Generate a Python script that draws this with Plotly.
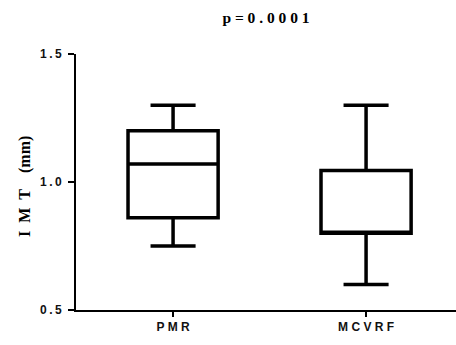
import plotly.graph_objects as go

categories = ["P M R", "M C V R F"]
lower_whisker = [0.75, 0.60]
q1 = [0.86, 0.80]
median = [1.07, 0.80]
q3 = [1.20, 1.045]
upper_whisker = [1.30, 1.30]
y_tick_vals = [0.5, 1.0, 1.5]
y_tick_text = ["0\u2009.\u20095", "1\u2009.\u20090", "1\u2009.\u20095"]
title_text = "p = 0 . 0 0 0 1"
y_title = "I\u2002M\u2002T\u2003(mm)"

fig = go.Figure()
fig.add_trace(go.Box(
    x=categories, q1=q1, median=median, q3=q3,
    lowerfence=lower_whisker, upperfence=upper_whisker,
    fillcolor="white", line=dict(color="black", width=3.5),
    whiskerwidth=0.5, boxpoints=False, showlegend=False, hoverinfo="skip",
))

tick_font = dict(family="Arial, Liberation Sans, sans-serif", size=12, color="#111", weight="bold")
fig.update_layout(
    width=456, height=345,
    margin=dict(l=76, r=0, t=54, b=35),
    plot_bgcolor="white", paper_bgcolor="white",
    boxgap=0.333,
    title=dict(text=title_text, x=0.5, xref="paper", xanchor="center",
               y=1 - 18 / 345, yref="container", yanchor="middle",
               font=dict(family="Times New Roman, Liberation Serif, serif", size=15.5, color="black", weight="bold")),
    xaxis=dict(range=[-0.503, 1.466], showline=True, linecolor="black", linewidth=2,
               ticks="outside", ticklen=5, tickwidth=2, tickcolor="black",
               showgrid=False, zeroline=False, tickfont=tick_font, fixedrange=True),
    yaxis=dict(range=[0.5, 1.5], showline=True, linecolor="black", linewidth=2,
               ticks="outside", ticklen=6, tickwidth=2, tickcolor="black",
               tickvals=y_tick_vals, ticktext=y_tick_text, ticklabelstandoff=4,
               showgrid=False, zeroline=False, tickfont=tick_font, fixedrange=True),
    annotations=[dict(text=y_title, textangle=-90, xref="paper", yref="paper",
                      x=(25 - 76) / 380, y=(310 - 187) / 256, xanchor="center", yanchor="middle", showarrow=False,
                      font=dict(family="Times New Roman, Liberation Serif, serif", size=16, color="black", weight="bold"))],
)
fig.write_html("out.html", config={"displayModeBar": False},
               post_script="document.body.style.margin='0';")
